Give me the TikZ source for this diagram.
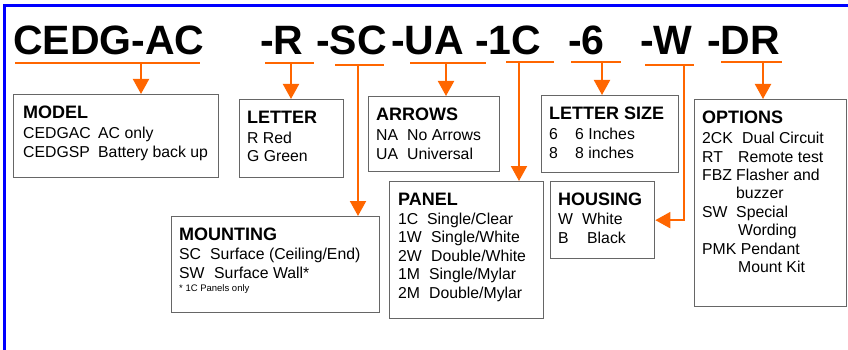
\documentclass[tikz,border=0pt]{standalone}
\usepackage{fontspec}
\setmainfont{Liberation Sans}
\usepackage{xcolor}
\usepackage{tikz}
\usetikzlibrary{arrows.meta,positioning,calc}
\definecolor{codeorange}{HTML}{FF6600}
\definecolor{frameblue}{HTML}{0000FF}
\newcommand{\boxhead}[1]{{\bfseries\fontsize{18}{20}\selectfont #1}}
\newcommand{\keycol}[2]{\makebox[#1][l]{#2}}

\begin{document}
\begin{tikzpicture}[
    x=1pt, y=-1pt,
    box/.style={
        rectangle, draw=black!60, line width=1.3pt,
        inner sep=0pt, anchor=north west
    },
    txt/.style={
        anchor=north west, align=left, inner sep=0pt,
        font=\fontsize{15.8}{18.4}\selectfont
    },
    code/.style={
        anchor=base west, inner sep=0pt,
        font=\bfseries\fontsize{41}{41}\selectfont
    },
    uline/.style={line width=2pt, codeorange},
    arrow/.style={-{Triangle[length=15pt, width=16pt]}, line width=2pt, codeorange}
]
\useasboundingbox (0,0) rectangle (848,350);

% Frame
\draw[frameblue, line width=3pt] (4.5,350) -- (4.5,6) -- (848,6);

% Top: part number
\node[code] (c-model)   at (13,55)  {CEDG-AC};
\node[code] (c-letter)  at (260,55) {-R};
\node[code] (c-mount)   at (316,55) {-SC};
\node[code] (c-arrows)  at (391,55) {-UA};
\node[code] (c-panel)   at (475,55) {-1C};
\node[code] (c-size)    at (568,55) {-6};
\node[code] (c-housing) at (640,55) {-W};
\node[code] (c-options) at (707,55) {-DR};

% Underlines
\draw[uline] (15,63)  -- (200,63);
\draw[uline] (265,63) -- (314,63);
\draw[uline] (335,65) -- (384,65);
\draw[uline] (410,63) -- (486,63);
\draw[uline] (506,62) -- (554,62);
\draw[uline] (571,62) -- (621,62);
\draw[uline] (645,65) -- (694,65);
\draw[uline] (721,62) -- (782,62);

\coordinate (u-model)   at (141,63);
\coordinate (u-letter)  at (291,63);
\coordinate (u-mount)   at (358,65);
\coordinate (u-arrows)  at (446,63);
\coordinate (u-panel)   at (519,62);
\coordinate (u-size)    at (602,62);
\coordinate (u-housing) at (684,65);
\coordinate (u-options) at (763,62);

% Boxes
\node[box, minimum width=205, minimum height=83]  (model)    at (13,94)   {};
\node[box, minimum width=104, minimum height=78]  (letter)   at (239,99)  {};
\node[box, minimum width=131, minimum height=75]  (arrows)   at (368,96)  {};
\node[box, minimum width=137, minimum height=77]  (size)     at (541,95)  {};
\node[box, minimum width=152, minimum height=207] (options)  at (694,99)  {};
\node[box, minimum width=208, minimum height=96]  (mounting) at (171,216) {};
\node[box, minimum width=154, minimum height=137] (panel)    at (389,181) {};
\node[box, minimum width=104, minimum height=77]  (housing)  at (550,181) {};

% Box texts
\node[txt] (model-txt) at ([xshift=10pt, yshift=-11.5pt]model.north west) {
    \boxhead{MODEL}\\[2pt]
    \keycol{75pt}{CEDGAC}AC only\\
    \keycol{75pt}{CEDGSP}Battery back up
};
\node[txt] (letter-txt) at ([xshift=8pt, yshift=-11.5pt]letter.north west) {
    \boxhead{LETTER}\\[2pt]
    R Red\\
    G Green
};
\node[txt] (arrows-txt) at ([xshift=8pt, yshift=-11.5pt]arrows.north west) {
    \boxhead{ARROWS}\\[2pt]
    \keycol{31pt}{NA}No Arrows\\
    \keycol{31pt}{UA}Universal
};
\node[txt] (size-txt) at ([xshift=8pt, yshift=-11.5pt]size.north west) {
    \boxhead{LETTER SIZE}\\[2pt]
    \keycol{26pt}{6}6 Inches\\
    \keycol{26pt}{8}8 inches
};
\node[txt] (options-txt) at ([xshift=8pt, yshift=-11.5pt]options.north west) {
    \boxhead{OPTIONS}\\[2pt]
    \keycol{40pt}{2CK}Dual Circuit\\
    \keycol{36pt}{RT}Remote test\\
    \keycol{34pt}{FBZ}Flasher and\\
    \keycol{34pt}{}buzzer\\
    \keycol{34pt}{SW}Special\\
    \keycol{36pt}{}Wording\\
    PMK Pendant\\
    \keycol{36pt}{}Mount Kit
};
\node[txt] (mounting-txt) at ([xshift=8pt, yshift=-11.5pt]mounting.north west) {
    \boxhead{MOUNTING}\\[1pt]
    \keycol{31pt}{SC}Surface (Ceiling/End)\\
    \keycol{35pt}{SW}Surface Wall*\\[-5pt]
    {\fontsize{9.5}{10}\selectfont * 1C Panels only}
};
\node[txt] (panel-txt) at ([xshift=9pt, yshift=-11.5pt]panel.north west) {
    \boxhead{PANEL}\\[1pt]
    \keycol{29pt}{1C}Single/Clear\\
    \keycol{33pt}{1W}Single/White\\
    \keycol{33pt}{2W}Double/White\\
    \keycol{31pt}{1M}Single/Mylar\\
    \keycol{31pt}{2M}Double/Mylar
};
\node[txt] (housing-txt) at ([xshift=8pt, yshift=-11.5pt]housing.north west) {
    \boxhead{HOUSING}\\[1pt]
    \keycol{24pt}{W}White\\
    \keycol{29pt}{B}Black
};

% Arrows
\draw[arrow] (u-model)   -- (u-model |- model.north);
\draw[arrow] (u-letter)  -- (u-letter |- letter.north);
\draw[arrow] (u-mount)   -- (u-mount |- mounting.north);
\draw[arrow] (u-arrows)  -- (u-arrows |- arrows.north);
\draw[arrow] (u-panel)   -- (u-panel |- panel.north);
\draw[arrow] (u-size)    -- (u-size |- size.north);
\draw[arrow] (u-housing) |- (housing.east);
\draw[arrow] (u-options) -- (u-options |- options.north);
\end{tikzpicture}
\end{document}
